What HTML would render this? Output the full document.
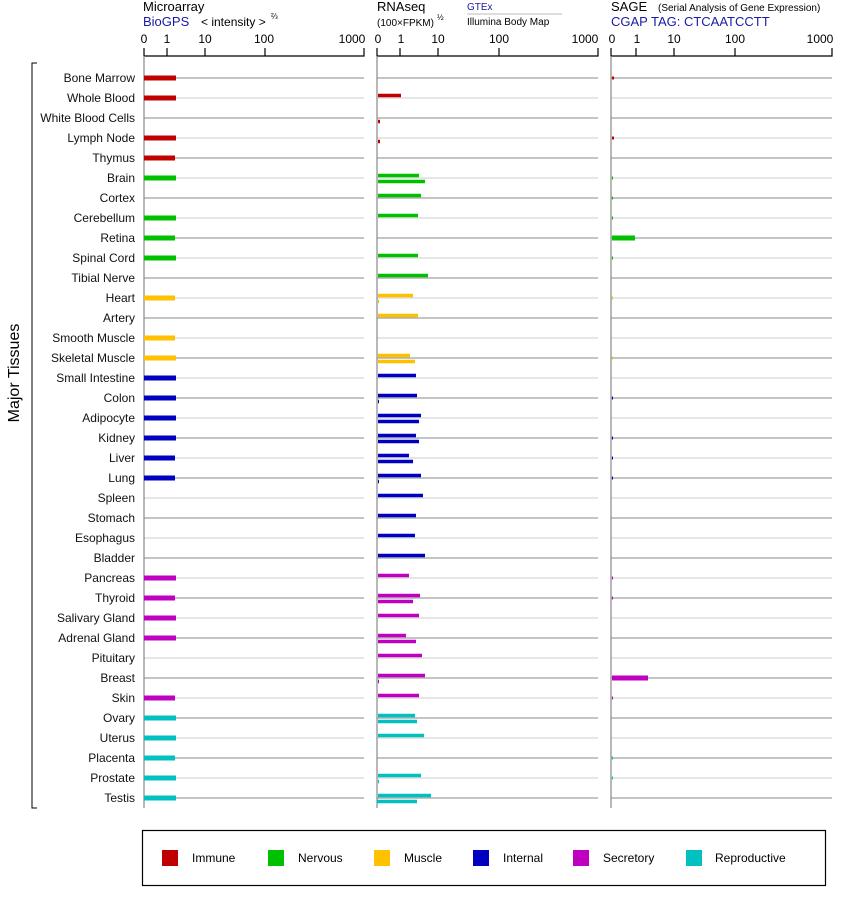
<!DOCTYPE html>
<html><head><meta charset="utf-8"><style>body{margin:0;background:#fff}svg{display:block}text{font-family:"Liberation Sans",sans-serif}</style></head><body>
<svg width="842" height="900" viewBox="0 0 842 900" xmlns="http://www.w3.org/2000/svg">
<text x="143" y="11" font-size="13">Microarray</text>
<text x="143" y="26" font-size="13" fill="#1a1aa6">BioGPS</text>
<text x="201" y="26" font-size="12">&lt; intensity &gt;</text>
<text x="271" y="19" font-size="8">⅔</text>
<text x="377" y="11" font-size="13">RNAseq</text>
<text x="377" y="26" font-size="10">(100×FPKM)</text>
<text x="437" y="20" font-size="8">½</text>
<text x="467" y="10" font-size="10" fill="#1a1aa6">GTEx</text>
<line x1="467" y1="14" x2="562" y2="14" stroke="#bbb"/>
<text x="467" y="25" font-size="10">Illumina Body Map</text>
<text x="611" y="11" font-size="13">SAGE</text>
<text x="658" y="11" font-size="10">(Serial Analysis of Gene Expression)</text>
<text x="611" y="26" font-size="13" fill="#1a1aa6">CGAP TAG: CTCAATCCTT</text>
<g stroke="#000" stroke-width="1.2" fill="none">
<path d="M144 48V56H364V48M167 48V56M205 48V56M265 48V56"/>
<path d="M377 48V56H598V48M400 48V56M438 48V56M499 48V56"/>
<path d="M611 48V56H832V48M636 48V56M674 48V56M735 48V56"/>
</g>
<g font-size="12" text-anchor="middle">
<text x="144" y="43">0</text><text x="167" y="43">1</text><text x="205" y="43">10</text><text x="264" y="43">100</text><text x="352" y="43">1000</text>
<text x="378" y="43">0</text><text x="401" y="43">1</text><text x="438" y="43">10</text><text x="499" y="43">100</text><text x="585" y="43">1000</text>
<text x="612" y="43">0</text><text x="637" y="43">1</text><text x="674" y="43">10</text><text x="735" y="43">100</text><text x="820" y="43">1000</text>
</g>
<g>
<g stroke="#888" stroke-width="1">
<path d="M144 78H364M144 118H364M144 158H364M144 198H364M144 238H364M144 278H364M144 318H364M144 358H364M144 398H364M144 438H364M144 478H364M144 518H364M144 558H364M144 598H364M144 638H364M144 678H364M144 718H364M144 758H364M144 798H364"/>
<path d="M377 78H598M377 118H598M377 158H598M377 198H598M377 238H598M377 278H598M377 318H598M377 358H598M377 398H598M377 438H598M377 478H598M377 518H598M377 558H598M377 598H598M377 638H598M377 678H598M377 718H598M377 758H598M377 798H598"/>
<path d="M611 78H832M611 118H832M611 158H832M611 198H832M611 238H832M611 278H832M611 318H832M611 358H832M611 398H832M611 438H832M611 478H832M611 518H832M611 558H832M611 598H832M611 638H832M611 678H832M611 718H832M611 758H832M611 798H832"/>
</g>
<g stroke="#ccc" stroke-width="1">
<path d="M144 98H364M144 138H364M144 178H364M144 218H364M144 258H364M144 298H364M144 338H364M144 378H364M144 418H364M144 458H364M144 498H364M144 538H364M144 578H364M144 618H364M144 658H364M144 698H364M144 738H364M144 778H364"/>
<path d="M377 98H598M377 138H598M377 178H598M377 218H598M377 258H598M377 298H598M377 338H598M377 378H598M377 418H598M377 458H598M377 498H598M377 538H598M377 578H598M377 618H598M377 658H598M377 698H598M377 738H598M377 778H598"/>
<path d="M611 98H832M611 138H832M611 178H832M611 218H832M611 258H832M611 298H832M611 338H832M611 378H832M611 418H832M611 458H832M611 498H832M611 538H832M611 578H832M611 618H832M611 658H832M611 698H832M611 738H832M611 778H832"/>
</g>
<path d="M144 56V808M377 56V808M611 56V808" stroke="#888" stroke-width="1.2"/>
</g>
<path d="M37 63H32V808H37" stroke="#000" fill="none"/>
<text transform="translate(19,373) rotate(-90)" font-size="16" text-anchor="middle">Major Tissues</text>
<g font-size="12" text-anchor="end" fill="#111">
<text x="135" y="82">Bone Marrow</text>
<text x="135" y="102">Whole Blood</text>
<text x="135" y="122">White Blood Cells</text>
<text x="135" y="142">Lymph Node</text>
<text x="135" y="162">Thymus</text>
<text x="135" y="182">Brain</text>
<text x="135" y="202">Cortex</text>
<text x="135" y="222">Cerebellum</text>
<text x="135" y="242">Retina</text>
<text x="135" y="262">Spinal Cord</text>
<text x="135" y="282">Tibial Nerve</text>
<text x="135" y="302">Heart</text>
<text x="135" y="322">Artery</text>
<text x="135" y="342">Smooth Muscle</text>
<text x="135" y="362">Skeletal Muscle</text>
<text x="135" y="382">Small Intestine</text>
<text x="135" y="402">Colon</text>
<text x="135" y="422">Adipocyte</text>
<text x="135" y="442">Kidney</text>
<text x="135" y="462">Liver</text>
<text x="135" y="482">Lung</text>
<text x="135" y="502">Spleen</text>
<text x="135" y="522">Stomach</text>
<text x="135" y="542">Esophagus</text>
<text x="135" y="562">Bladder</text>
<text x="135" y="582">Pancreas</text>
<text x="135" y="602">Thyroid</text>
<text x="135" y="622">Salivary Gland</text>
<text x="135" y="642">Adrenal Gland</text>
<text x="135" y="662">Pituitary</text>
<text x="135" y="682">Breast</text>
<text x="135" y="702">Skin</text>
<text x="135" y="722">Ovary</text>
<text x="135" y="742">Uterus</text>
<text x="135" y="762">Placenta</text>
<text x="135" y="782">Prostate</text>
<text x="135" y="802">Testis</text>
</g>
<g stroke-width="5" stroke-linecap="butt">
<path stroke="#c00000" d="M144 78H176M144 98H176M144 138H176M144 158H175"/>
<path stroke="#00c000" d="M144 178H176M144 218H176M144 238H175M144 258H176"/>
<path stroke="#ffc000" d="M144 298H175M144 338H175M144 358H176"/>
<path stroke="#0000c0" d="M144 378H176M144 398H176M144 418H176M144 438H176M144 458H175M144 478H175"/>
<path stroke="#c000c0" d="M144 578H176M144 598H175M144 618H176M144 638H176M144 698H175"/>
<path stroke="#00c0c0" d="M144 718H176M144 738H176M144 758H175M144 778H176M144 798H176"/>
</g>
<g stroke-width="3.5">
<path stroke="#c00000" d="M378 95.5H401M378 121.5H380M378 141.5H380"/>
<path stroke="#00c000" d="M378 175.5H419M378 181.5H425M378 195.5H421M378 215.5H418M378 255.5H418M378 275.5H428"/>
<path stroke="#ffc000" d="M378 295.5H413M378 301.5H379M378 315.5H418M378 355.5H410M378 361.5H415"/>
<path stroke="#0000c0" d="M378 375.5H416M378 395.5H417M378 401.5H379M378 415.5H421M378 421.5H419M378 435.5H416M378 441.5H419M378 455.5H409M378 461.5H413M378 475.5H421M378 481.5H379M378 495.5H423M378 515.5H416M378 535.5H415M378 555.5H425"/>
<path stroke="#c000c0" d="M378 575.5H409M378 595.5H420M378 601.5H413M378 615.5H419M378 635.5H406M378 641.5H416M378 655.5H422M378 675.5H425M378 681.5H379M378 695.5H419"/>
<path stroke="#00c0c0" d="M378 715.5H415M378 721.5H417M378 735.5H424M378 775.5H421M378 781.5H379M378 795.5H431M377 801.5H417"/>
</g>
<g stroke-width="3">
<path stroke="#c00000" d="M612 78H614M612 138H614"/>
<path stroke="#00c000" d="M612 178H613M612 198H613M612 218H613M612 258H613"/>
<path stroke="#00c000" stroke-width="5" d="M612 238H635"/>
<path stroke="#ffc000" d="M612 298H613M612 358H613"/>
<path stroke="#0000c0" d="M612 398H613M612 438H613M612 458H613M612 478H613"/>
<path stroke="#c000c0" d="M612 578H613M612 598H613M612 698H613"/>
<path stroke="#c000c0" stroke-width="5" d="M612 678H648"/>
<path stroke="#00c0c0" d="M612 758H613M612 778H613"/>
</g>
<rect x="142.5" y="830.5" width="683" height="55" fill="none" stroke="#000" stroke-width="1.2"/>
<rect x="162" y="850" width="16" height="16" fill="#c00000"/>
<rect x="268" y="850" width="16" height="16" fill="#00c000"/>
<rect x="374" y="850" width="16" height="16" fill="#ffc000"/>
<rect x="473" y="850" width="16" height="16" fill="#0000c0"/>
<rect x="573" y="850" width="16" height="16" fill="#c000c0"/>
<rect x="686" y="850" width="16" height="16" fill="#00c0c0"/>
<g font-size="12">
<text x="192" y="862">Immune</text>
<text x="298" y="862">Nervous</text>
<text x="404" y="862">Muscle</text>
<text x="503" y="862">Internal</text>
<text x="603" y="862">Secretory</text>
<text x="715" y="862">Reproductive</text>
</g>
</svg>
</body></html>
